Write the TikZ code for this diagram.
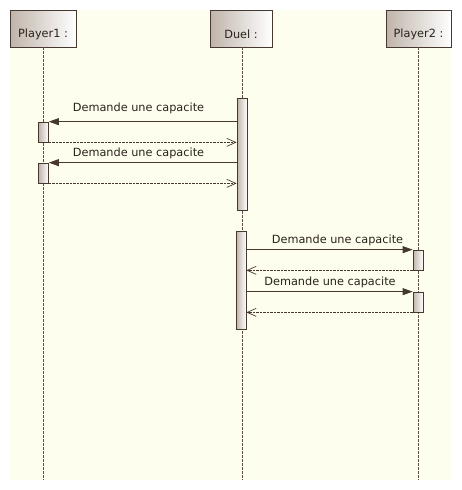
\documentclass[tikz,border=0pt]{standalone}
\usepackage{fontspec}
\setmainfont{DejaVu Sans}
\usetikzlibrary{arrows.meta}
\definecolor{bg}{HTML}{FEFEEE}
\definecolor{ln}{HTML}{46382F}
\definecolor{life}{HTML}{5E5048}
\definecolor{boxl}{HTML}{BFB4AA}
\begin{document}
\begin{tikzpicture}[x=1pt,y=-1pt,
  font=\fontsize{11.3}{13}\selectfont,
  head/.style={draw=ln, line width=0.8pt, left color=boxl, right color=white, minimum height=37pt, inner sep=0pt},
  htext/.style={inner sep=0pt, text=ln!60!black},
  actbox/.style={draw=ln, line width=0.7pt, left color=boxl, right color=white, minimum width=10pt, inner sep=0pt},
  lifeln/.style={draw=life, line width=0.7pt, dash pattern=on 3pt off 1pt},
  callmsg/.style={draw=ln, line width=0.8pt, -{Triangle[length=10pt,width=7pt]}},
  retmsg/.style={draw=ln, line width=0.7pt, dash pattern=on 2.5pt off 1pt, -{Straight Barb[length=9pt,width=8pt,line width=0.7pt]}},
  lbl/.style={inner sep=0pt, text=ln!60!black}]
\useasboundingbox[fill=white] (0,0) rectangle (461,490);
\fill[bg] (10,10) rectangle (451,480);
% heads
\node[head, minimum width=66pt] (p1) at (43,28.5) {};
\node[htext] (p1t) at ([yshift=-6pt]p1.center) {Player1 :};
\node[head, minimum width=62pt] (du) at (241,28.5) {};
\node[htext] (dut) at ([yshift=-6pt]du.center) {Duel :};
\node[head, minimum width=65pt] (p2) at (418.5,28.5) {};
\node[htext] (p2t) at ([yshift=-6pt]p2.center) {Player2 :};
% lifelines
\coordinate (l1) at (43,480);
\coordinate (l2) at (242,480);
\coordinate (l3) at (418,480);
\draw[lifeln] (l1 |- p1.south) -- (l1);
\draw[lifeln] (l2 |- du.south) -- (l2);
\draw[lifeln] (l3 |- p2.south) -- (l3);
% activations
\node[actbox, minimum height=112pt] (a1) at (242,154) {};
\node[actbox, minimum height=20pt] (b1) at (43.5,132) {};
\node[actbox, minimum height=20pt] (b2) at (43.5,173) {};
\node[actbox, minimum height=98pt] (a2) at (241,280) {};
\node[actbox, minimum height=20pt] (c1) at (418,260) {};
\node[actbox, minimum height=20pt] (c2) at (418,302) {};
% messages
\draw[callmsg] (a1.west |- b1.north) -- (b1.north east);
\node[lbl] (m1) at (138.5,108) {Demande une capacite};
\draw[retmsg] (b1.south east) -- (a1.west |- b1.south);
\draw[callmsg] (a1.west |- b2.north) -- (b2.north east);
\node[lbl] (m2) at (138.5,153) {Demande une capacite};
\draw[retmsg] (b2.south east) -- (a1.west |- b2.south);
\draw[callmsg] (a2.east |- c1.north) -- (c1.north west);
\node[lbl] (m3) at (337.5,240.5) {Demande une capacite};
\draw[retmsg] (c1.south west) -- (a2.east |- c1.south);
\draw[callmsg] (a2.east |- c2.north) -- (c2.north west);
\node[lbl] (m4) at (330,282) {Demande une capacite};
\draw[retmsg] (c2.south west) -- (a2.east |- c2.south);
\end{tikzpicture}
\end{document}
